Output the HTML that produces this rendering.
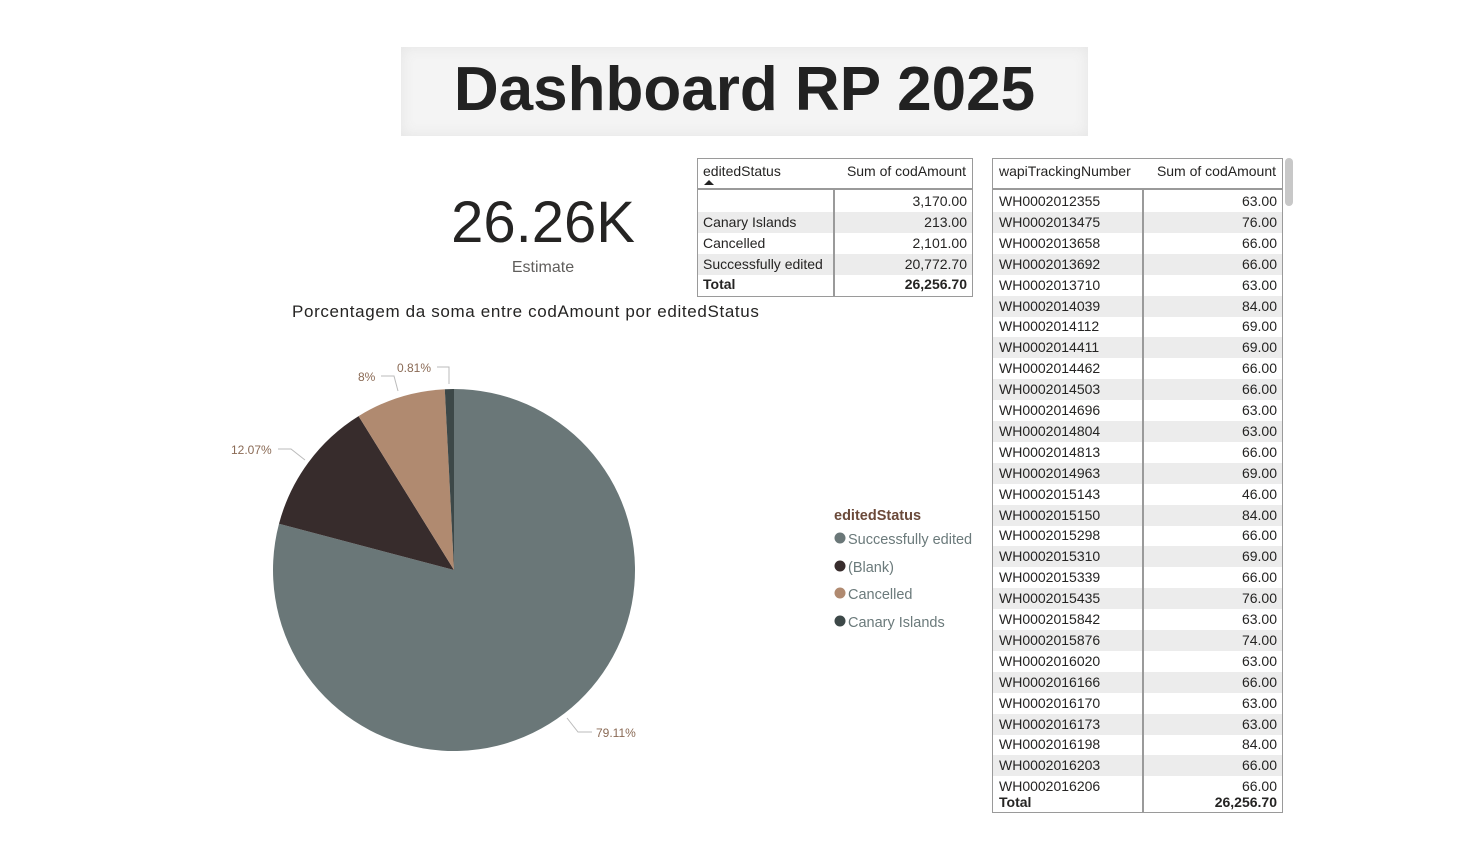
<!DOCTYPE html>
<html><head><meta charset="utf-8"><style>
body{margin:0;width:1460px;height:844px;background:#fff;position:relative;overflow:hidden;font-family:"Liberation Sans",sans-serif;color:#252423}
.a{position:absolute}
.title{left:401px;top:47px;width:687px;height:89px;background:#f4f4f4;box-shadow:inset 0 0 14px #e4e4e4;text-align:center;font-weight:bold;font-size:62px;line-height:86px;color:#222}
.t{position:absolute;border:1px solid #9a9a9a;font-size:14px;background:#fff;overflow:hidden}
.r{position:absolute;left:0;right:0;height:21px;line-height:21px}
.r span{position:absolute}
.g{background:#ececec}
</style></head><body>
<div class="a title">Dashboard RP 2025</div>
<div class="a" style="left:443px;top:188px;width:200px;text-align:center;font-size:58px;line-height:70px;color:#252423">26.26K</div>
<div class="a" style="left:443px;top:259px;width:200px;text-align:center;font-size:16px;color:#605e5c">Estimate</div>
<div class="a" style="left:292px;top:302px;font-size:17px;letter-spacing:0.65px;color:#252423">Porcentagem da soma entre codAmount por editedStatus</div>

<svg class="a" style="left:0;top:0" width="1460" height="844">
<path d="M454,570 L454,389 A181,181 0 1,1 279,523.8 Z" fill="#6a7778"/>
<path d="M454,570 L279,523.8 A181,181 0 0,1 358.6,416.1 Z" fill="#372c2c"/>
<path d="M454,570 L358.6,416.1 A181,181 0 0,1 444.8,389.2 Z" fill="#b08a70"/>
<path d="M454,570 L444.8,389.2 A181,181 0 0,1 454,389 Z" fill="#3d4848"/>
<g fill="none" stroke="#bbb" stroke-width="1">
<polyline points="437,367 449,367 449,384"/>
<polyline points="381,376 394,376 398,391"/>
<polyline points="278,449 291,449 305,460"/>
<polyline points="567,718 578,732 592,732"/>
</g>
<g font-family="Liberation Sans" font-size="12" fill="#8a6a55">
<text x="397" y="372">0.81%</text>
<text x="358" y="381">8%</text>
<text x="231" y="454">12.07%</text>
<text x="596" y="737">79.11%</text>
</g>
<g font-family="Liberation Sans" font-size="14.5">
<text x="834" y="520" font-weight="bold" fill="#6b4a3a">editedStatus</text>
<circle cx="840" cy="538" r="5.5" fill="#6a7778"/><text x="848" y="544" fill="#6b7a7b">Successfully edited</text>
<circle cx="840" cy="566" r="5.5" fill="#372c2c"/><text x="848" y="572" fill="#6b7a7b">(Blank)</text>
<circle cx="840" cy="593" r="5.5" fill="#b08a70"/><text x="848" y="599" fill="#6b7a7b">Cancelled</text>
<circle cx="840" cy="621" r="5.5" fill="#3d4848"/><text x="848" y="627" fill="#6b7a7b">Canary Islands</text>
</g>
</svg>

<div class="t" style="left:697px;top:158px;width:274px;height:137px">
<div class="r" style="top:2px"><span style="left:5px">editedStatus</span><span style="right:6px">Sum of codAmount</span></div>
<div class="a" style="left:6px;top:21px;width:0;height:0;border-left:5px solid transparent;border-right:5px solid transparent;border-bottom:5px solid #222"></div>
<div class="a" style="left:0;right:0;top:29px;border-top:2px solid #9a9a9a"></div>
<div class="r" style="top:32px"><span style="right:5px">3,170.00</span></div>
<div class="r g" style="top:53px"><span style="left:5px">Canary Islands</span><span style="right:5px">213.00</span></div>
<div class="r" style="top:74px"><span style="left:5px">Cancelled</span><span style="right:5px">2,101.00</span></div>
<div class="r g" style="top:95px"><span style="left:5px">Successfully edited</span><span style="right:5px">20,772.70</span></div>
<div class="r" style="top:115px;font-weight:bold"><span style="left:5px">Total</span><span style="right:5px">26,256.70</span></div>
<div class="a" style="left:135px;top:31px;bottom:0;border-left:2px solid #9a9a9a"></div>
</div>

<div class="t" style="left:992px;top:158px;width:289px;height:653px">
<div class="r" style="top:2px"><span style="left:6px">wapiTrackingNumber</span><span style="right:6px">Sum of codAmount</span></div>
<div class="a" style="left:0;right:0;top:29px;border-top:2px solid #9a9a9a"></div>
<div id="rows"></div>
<div class="r" style="top:633px;height:20px;line-height:20px;font-weight:bold;background:#fff"><span style="left:6px">Total</span><span style="right:5px">26,256.70</span></div>
<div class="a" style="left:149px;top:31px;bottom:0;border-left:2px solid #9a9a9a"></div>
</div>
<div class="a" style="left:1285px;top:158px;width:8px;height:48px;background:#c8c8c8;border-radius:4px"></div>
<script>
var d=[["2012355","63"],["2013475","76"],["2013658","66"],["2013692","66"],["2013710","63"],["2014039","84"],["2014112","69"],["2014411","69"],["2014462","66"],["2014503","66"],["2014696","63"],["2014804","63"],["2014813","66"],["2014963","69"],["2015143","46"],["2015150","84"],["2015298","66"],["2015310","69"],["2015339","66"],["2015435","76"],["2015842","63"],["2015876","74"],["2016020","63"],["2016166","66"],["2016170","63"],["2016173","63"],["2016198","84"],["2016203","66"],["2016206","66"]];
var h="";for(var i=0;i<d.length;i++){h+='<div class="r'+(i%2?' g':'')+'" style="top:'+(32+i*20.9)+'px"><span style="left:6px">WH000'+d[i][0]+'</span><span style="right:5px">'+d[i][1]+'.00</span></div>';}
document.getElementById("rows").innerHTML=h;
</script>
</body></html>
